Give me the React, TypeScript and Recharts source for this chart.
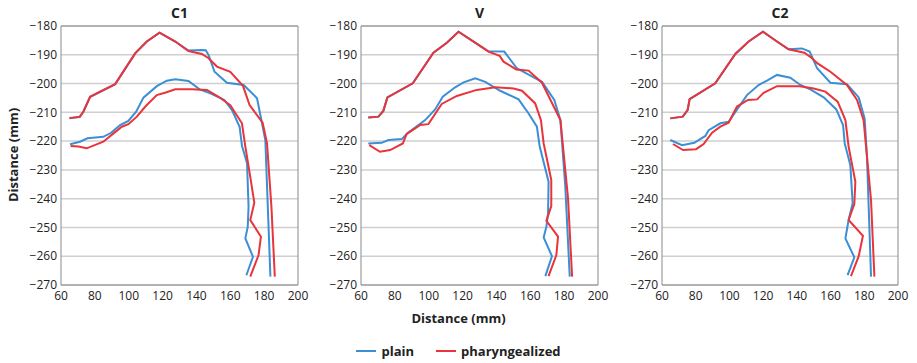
import { CartesianGrid, Line, LineChart, ReferenceLine, XAxis, YAxis } from "recharts";

type Pt = { x: number; y: number };

const pts = (arr: number[][]): Pt[] => arr.map(([x, y]) => ({ x, y }));

const xTicks = [60, 80, 100, 120, 140, 160, 180, 200];
const yTicks = [-270, -260, -250, -240, -230, -220, -210, -200, -190, -180];

const BLUE = "#3b8fd5";
const RED = "#e8343a";
const FONT = "'Open Sans', sans-serif";

// C1
const c1PlainUpper = pts([
  [65, -212], [71, -211.6], [73.2, -209.8], [77.2, -204.6], [92, -200.2], [103.8, -189.5],
  [110.7, -185.4], [118.2, -182.3], [127.5, -185.4], [135.3, -188.5], [143.2, -188.3],
  [145.5, -188.4], [147.2, -190.1], [150.7, -195.9], [158, -199.7], [167.9, -200.5],
  [175.8, -205.1], [180.7, -219.6], [183.7, -267.1],
]);
const c1PharUpper = pts([
  [65, -212.1], [71.2, -211.5], [73.2, -209.8], [77.2, -204.6], [92, -200.2], [103.8, -189.5],
  [110.7, -185.4], [118.2, -182.3], [127.5, -185.4], [135.3, -188.7], [143.2, -189.7],
  [147.2, -191.2], [152.1, -194.1], [160, -195.9], [167.5, -200.8], [171.4, -207.5],
  [179.1, -213.6], [181.7, -220.8], [184.3, -242.8], [186.3, -267.1],
]);
const c1PlainLower = pts([
  [65.3, -221.1], [71.2, -220.2], [75.6, -219], [85, -218.5], [89.6, -217.1], [94.9, -214.4],
  [99.8, -213], [104.4, -209.8], [108.7, -204.9], [116.6, -200.9], [122.5, -199],
  [127.5, -198.5], [135.3, -199.1], [141.9, -202], [148.2, -203.4], [156.5, -205.7],
  [161, -209.2], [165.5, -215], [166.9, -221.6], [169.9, -227.7], [170.8, -242.8],
  [170.3, -249.8], [168.9, -253.8], [173.4, -260.2], [169.5, -266.6],
]);
const c1PharLower = pts([
  [65.7, -221.7], [70.3, -221.9], [75.2, -222.5], [85, -220.2], [92.3, -216.7], [95.9, -215],
  [99.8, -214.1], [104.8, -211.5], [110.1, -207.8], [116.6, -204], [121.9, -203.1],
  [127.5, -202], [137.3, -202], [146.2, -202.2], [153.1, -204.6], [160, -207.5],
  [166.9, -213.8], [168.9, -221.9], [171.8, -232.4], [174.2, -241.4], [171.8, -247.4],
  [178.1, -253.2], [176.7, -259.6], [171.8, -267.1],
]);

// V
const vPlainUpper = pts([
  [64.3, -211.8], [70.3, -211.5], [73.2, -209.5], [75.6, -204.8], [90.6, -199.9], [102.8, -189.3],
  [110.7, -185.8], [117.6, -182], [126.5, -185.4], [135.3, -188.8], [144.6, -188.9],
  [152.1, -194.7], [166.9, -199.4], [174.2, -205.7], [177.8, -212.7], [180.7, -235.9],
  [183.3, -267.1],
]);
const vPharUpper = pts([
  [64.3, -211.8], [70.3, -211.5], [73.2, -209.5], [75.6, -204.8], [90.6, -199.9], [102.8, -189.3],
  [110.7, -185.8], [117.6, -182], [126.5, -185.4], [135.3, -188.9], [141.9, -190.4],
  [144.2, -192.4], [151.7, -195.1], [159, -195.5], [166.9, -199.7], [177.8, -212.7],
  [182.3, -239.9], [184.7, -267.1],
]);
const vPlainLower = pts([
  [64.3, -220.8], [72.2, -220.6], [76.2, -219.6], [84.1, -219.3], [87.4, -217.3], [97.9, -212.7],
  [103.8, -209], [108.3, -204.6], [115.6, -201.3], [120.6, -199.6], [127.5, -198.2],
  [133.4, -199.4], [142.2, -202.5], [153.1, -205.5], [159, -210.4], [163.9, -215],
  [165.5, -221.7], [170.8, -234.1], [170.5, -245.1], [169.5, -249.8], [167.9, -253.5],
  [172.8, -260], [168.9, -266.9],
]);
const vPharLower = pts([
  [64.9, -221.4], [71.2, -223.7], [77.2, -223.1], [84.7, -220.8], [87, -217.5], [92, -215.6],
  [94.9, -214.4], [99.8, -214.1], [107.7, -207.1], [116.6, -204.3], [128.4, -202.2],
  [139.3, -201.3], [150.1, -201.7], [155.1, -202.5], [162.9, -206.9], [166.3, -212.7],
  [167.9, -220.8], [172.4, -233.5], [172.4, -242.6], [169.5, -247.7], [176.4, -253.2],
  [175.4, -259.6], [170.8, -266.9],
]);

// C2
const c2PlainUpper = pts([
  [64.9, -212.1], [72.3, -211.5], [75.2, -209.2], [76.4, -205.4], [91.6, -199.9], [103.5, -189.7],
  [111.4, -185.4], [119.9, -182], [128.2, -185.4], [135.1, -188.1], [143, -187.8],
  [147.6, -188.9], [152, -194.7], [159.9, -199.7], [169.7, -200.2], [176.7, -204.8],
  [180.2, -212.1], [181.6, -225.4], [184, -267.1],
]);
const c2PharUpper = pts([
  [64.9, -212.1], [72.3, -211.5], [75.2, -209.2], [76.4, -205.4], [91.6, -199.9], [103.5, -189.7],
  [111.4, -185.4], [119.9, -182], [128.2, -185.4], [135.1, -188.1], [144.4, -189.3],
  [148, -190.7], [152.3, -193], [159.9, -195.9], [169.7, -200.5], [175.7, -205.7],
  [179.6, -212.7], [184, -240.5], [186, -267.1],
]);
const c2PlainLower = pts([
  [64.9, -219.6], [71.9, -221.4], [79.2, -220.6], [85.7, -218.2], [87.7, -216.2], [94.6, -213.8],
  [99.5, -213.3], [110.4, -204], [117.3, -200.5], [122.3, -199], [128.2, -197],
  [136.1, -198], [142.1, -200.5], [148, -202], [155.9, -204.8], [163.4, -209],
  [167.4, -214.4], [168.4, -220.8], [171.7, -228.3], [173.1, -241.6], [170.7, -247.4],
  [168.8, -253.8], [174.1, -260.4], [170.1, -266.6],
]);
const c2PharLower = pts([
  [66.5, -221], [72.5, -223.1], [80.2, -222.8], [84.7, -221], [89.7, -217.1], [94.6, -215],
  [99.5, -213.6], [104.5, -208], [111, -205.7], [116.4, -205.5], [120.3, -203.2],
  [128.2, -200.9], [141.7, -200.9], [150, -201.7], [156.9, -202.8], [164.2, -206.3],
  [168.8, -212.7], [170.7, -221.9], [174.7, -234.1], [174.1, -241.9], [170.7, -247.4],
  [179.2, -252.9], [176.7, -260], [172.1, -266.9],
]);

const panels = [
  { title: "C1", left: 0, plotW: 237, right: 16, plain: [c1PlainUpper, c1PlainLower], phar: [c1PharUpper, c1PharLower] },
  { title: "V", left: 300, plotW: 237, right: 16, plain: [vPlainUpper, vPlainLower], phar: [vPharUpper, vPharLower] },
  { title: "C2", left: 601, plotW: 236, right: 16, plain: [c2PlainUpper, c2PlainLower], phar: [c2PharUpper, c2PharLower] },
];

const tickStyle = { fontSize: 12, fill: "#222", fontFamily: FONT };

function Panel({ p }: { p: (typeof panels)[number] }) {
  const width = 61 + p.plotW + p.right;
  return (
    <div style={{ position: "absolute", left: p.left, top: 0 }}>
      <div
        style={{
          position: "absolute",
          left: 61,
          width: p.plotW,
          top: 3,
          textAlign: "center",
          fontWeight: 700,
          fontSize: 14,
          fontFamily: FONT,
          color: "#222",
        }}
      >
        {p.title}
      </div>
      <LineChart width={width} height={310} margin={{ top: 26, right: p.right, bottom: 0, left: 0 }}>
        <CartesianGrid vertical={false} stroke="#cfcfcf" strokeWidth={1.5} />
        <XAxis
          dataKey="x"
          type="number"
          domain={[60, 200]}
          ticks={xTicks}
          interval={0}
          height={25}
          tickSize={0}
          tickMargin={6}
          axisLine={{ stroke: "#8a8a8a" }}
          tickLine={false}
          tick={tickStyle}
        />
        <YAxis
          type="number"
          domain={[-270, -180]}
          ticks={yTicks}
          interval={0}
          width={61}
          tickSize={0}
          tickMargin={4}
          axisLine={{ stroke: "#8a8a8a" }}
          tickLine={false}
          tick={tickStyle}
          tickFormatter={(v: number) => String(v).replace("-", "\u2212")}
        />
        <ReferenceLine x={200} stroke="#8a8a8a" />
        <ReferenceLine y={-180} stroke="#8a8a8a" />
        {p.plain.map((d, i) => (
          <Line key={`b${i}`} data={d} dataKey="y" type="linear" stroke={BLUE} strokeWidth={2} dot={false} isAnimationActive={false} />
        ))}
        {p.phar.map((d, i) => (
          <Line key={`r${i}`} data={d} dataKey="y" type="linear" stroke={RED} strokeWidth={2} dot={false} isAnimationActive={false} />
        ))}
      </LineChart>
    </div>
  );
}

export default function App() {
  return (
    <div style={{ position: "absolute", left: 0, top: 0, width: 917, height: 363, background: "#fff", fontFamily: FONT, overflow: "hidden" }}>
      {panels.map((p) => (
        <Panel key={p.title} p={p} />
      ))}
      <div
        style={{
          position: "absolute",
          left: 13,
          top: 155,
          transform: "translate(-50%, -50%) rotate(-90deg)",
          whiteSpace: "nowrap",
          fontWeight: 700,
          fontSize: 13,
          color: "#222",
        }}
      >
        Distance (mm)
      </div>
      <div style={{ position: "absolute", left: 0, width: 917, top: 309, textAlign: "center", fontWeight: 700, fontSize: 13, color: "#222" }}>
        Distance (mm)
      </div>
      <div
        style={{
          position: "absolute",
          left: 0,
          width: 917,
          top: 342,
          display: "flex",
          justifyContent: "center",
          alignItems: "center",
          fontWeight: 700,
          fontSize: 13,
          color: "#222",
        }}
      >
        <span style={{ display: "inline-block", width: 20, height: 2, background: BLUE, marginRight: 5 }} />
        <span style={{ marginRight: 22 }}>plain</span>
        <span style={{ display: "inline-block", width: 20, height: 2, background: RED, marginRight: 5 }} />
        <span>pharyngealized</span>
      </div>
    </div>
  );
}
